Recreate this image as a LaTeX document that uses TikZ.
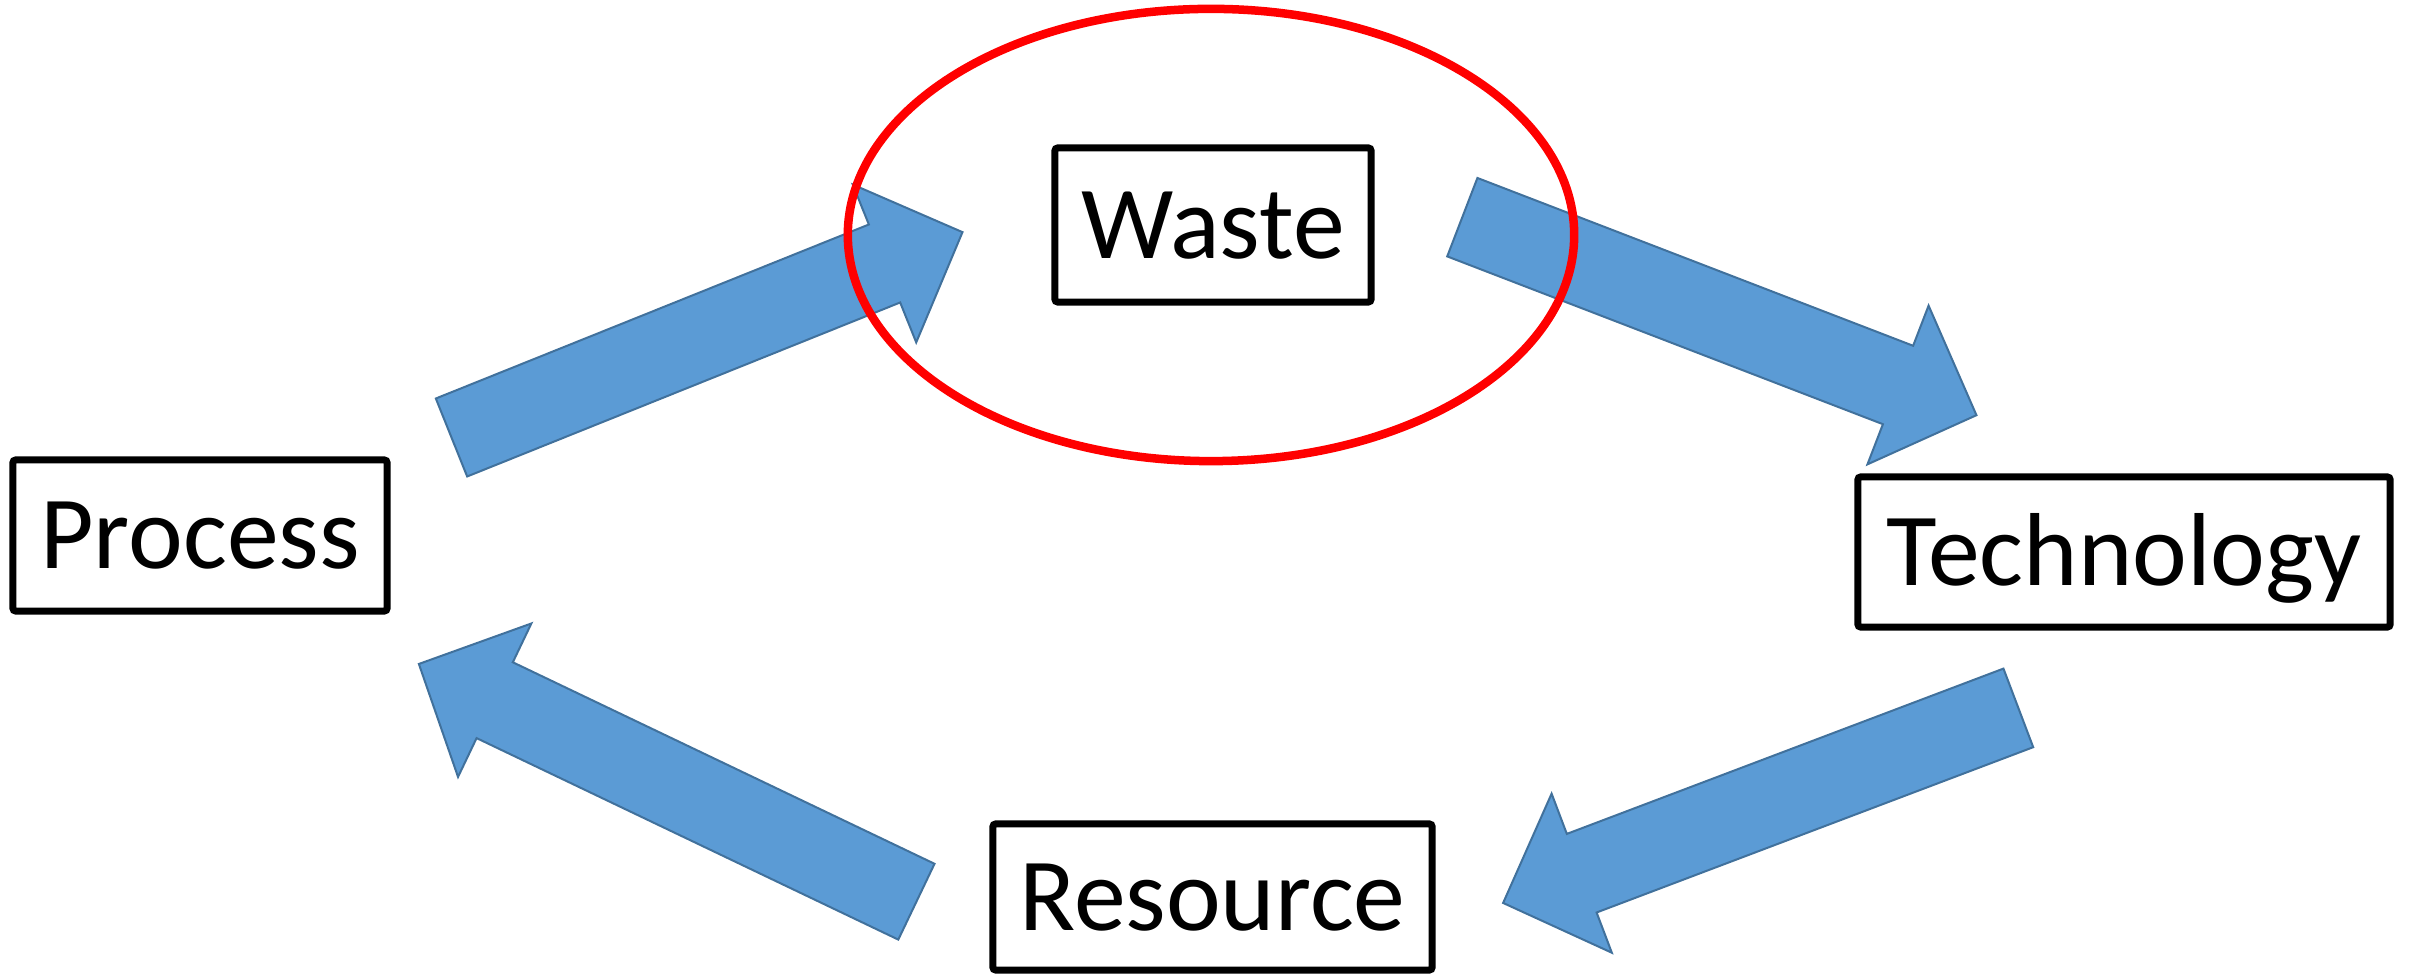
\documentclass[tikz,border=0pt]{standalone}
\usepackage{fontspec}
\setmainfont{Carlito}
\usetikzlibrary{calc}
\definecolor{arrowfill}{HTML}{5B9BD5}
\definecolor{arrowedge}{HTML}{41719C}
\definecolor{ringred}{HTML}{FF0000}

% Block arrow from tail centre #1 to head-base centre #2
\newcommand\blockarrow[2]{%
  \filldraw[flowarrow]
    ($(#1)!0.42cm!90:(#2)$) -- ($(#2)!0.42cm!-90:(#1)$) --
    ($(#2)!0.85cm!-90:(#1)$) -- ($(#2)!-0.84cm!(#1)$) --
    ($(#2)!0.85cm!90:(#1)$) -- ($(#2)!0.42cm!90:(#1)$) --
    ($(#1)!0.42cm!-90:(#2)$) -- cycle;}

\tikzset{
  flowarrow/.style={fill=arrowfill, draw=arrowedge, line width=0.02cm, line join=miter},
  labelbox/.style={draw=black, line width=0.07cm, rounded corners=0.8pt, fill=white,
    inner sep=0pt, minimum height=1.5cm, text height=0.66cm, text depth=0cm,
    font=\fontsize{29.5pt}{35pt}\selectfont},
  ring/.style={draw=ringred, line width=0.085cm}
}

\begin{document}
\begin{tikzpicture}[x=0.01cm, y=-0.01cm]
\useasboundingbox (0,0) rectangle (2410,977);

% arrow end points (tail centre, head-base centre)
\coordinate (a1t) at (451.5,437.5);  \coordinate (a1h) at (884.5,263.5);
\coordinate (a2t) at (1462.3,217.2); \coordinate (a2h) at (1898,385);
\coordinate (a3t) at (2018.3,707.9); \coordinate (a3h) at (1581.7,873.2);
\coordinate (a4t) at (916.4,901.7);  \coordinate (a4h) at (494.7,700.2);

\blockarrow{a1t}{a1h}
\blockarrow{a2t}{a2h}
\blockarrow{a3t}{a3h}
\blockarrow{a4t}{a4h}

% highlight ring around the waste box
\draw[ring] (1211,235) ellipse [x radius=3.63cm, y radius=2.26cm];

\node[labelbox, minimum width=3.16cm, minimum height=1.54cm] (waste) at (1213,225) {Waste};
\node[labelbox, minimum width=3.74cm, minimum height=1.51cm] (process) at (200,535.5) {Process};
\node[labelbox, minimum width=5.32cm] (technology) at (2124,552) {Technology};
\node[labelbox, minimum width=4.39cm, minimum height=1.46cm] (resource) at (1212.5,897) {Resource};
\end{tikzpicture}
\end{document}
